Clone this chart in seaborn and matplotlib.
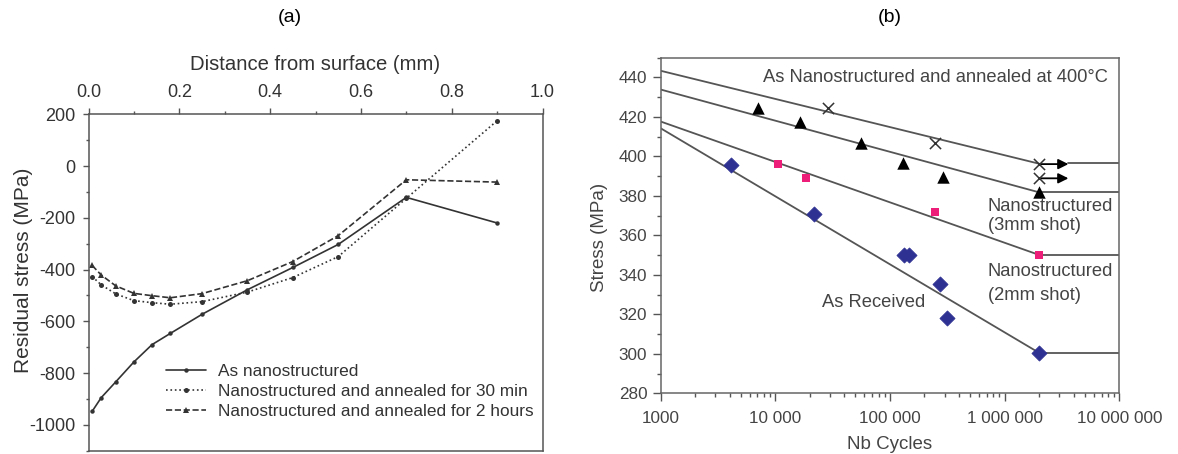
import numpy as np
import pandas as pd
import matplotlib
matplotlib.use("Agg")
import matplotlib.pyplot as plt
import seaborn as sns
from matplotlib.ticker import MultipleLocator, LogLocator, NullFormatter

# ---------------- data: panel (a) ----------------
depth_mm = [0.008, 0.028, 0.06, 0.1, 0.14, 0.18, 0.25, 0.35, 0.45, 0.55, 0.7, 0.9]
stress_as_nano = [-948, -895, -834, -757, -690, -647, -573, -478, -392, -303, -121, -220]
stress_30min = [-427, -459, -494, -520, -528, -534, -524, -487, -431, -350, -125, 175]
stress_2h = [-384, -421, -463, -492, -501, -509, -493, -443, -369, -269, -53, -62]
series_a_names = ["As nanostructured",
                  "Nanostructured and annealed for 30 min",
                  "Nanostructured and annealed for 2 hours"]

# ---------------- data: panel (b) ----------------
cycles_received = [4120, 22000, 132000, 148000, 272000, 314000, 2000000]
stress_received = [395.6, 371.0, 350.0, 350.0, 335.6, 318.0, 300.5]
cycles_2mm = [10500, 18700, 249000, 2000000]
stress_2mm = [396.0, 389.0, 371.8, 350.1]
cycles_3mm = [7100, 16600, 55700, 131000, 291000, 2000000]
stress_3mm = [424.5, 417.6, 407.0, 396.5, 389.5, 382.2]
cycles_annealed = [28600, 248000, 2000000, 2000000]
stress_annealed = [424.3, 406.6, 396.1, 388.9]

fit_names = ["annealed", "3mm", "2mm", "received"]
fit_start_stress = [443.4, 433.9, 417.7, 414.3]   # at 1000 cycles
fit_end_stress = [396.3, 381.8, 350.1, 300.5]      # at 2e6 cycles
runout_start = [3.6e6, 2e6, 2e6, 2e6]
runout_stress = [396.5, 381.8, 350.1, 300.5]
arrow_stress = [396.1, 388.9]

x_tick_b = [1e3, 1e4, 1e5, 1e6, 1e7]
x_tick_b_labels = ["1000", "10 000", "100 000", "1 000 000", "10 000 000"]

# ---------------- style ----------------
sns.set_theme(style="ticks")
plt.rcParams["font.family"] = ["Liberation Sans", "DejaVu Sans"]
plt.rcParams["axes.unicode_minus"] = False

TXT = "#333333"
SPINE = "#555555"

fig = plt.figure(figsize=(11.78, 4.54), dpi=100)
axa = fig.add_axes([88.5 / 1178, 3.3 / 454, 454 / 1178, 336.4 / 454])
axb = fig.add_axes([660.5 / 1178, 60.7 / 454, 458.8 / 1178, 335.6 / 454])

fig.text(290 / 1178, 1 - 18 / 454, "(a)", ha="center", va="center", fontsize=14, color="black")
fig.text(890 / 1178, 1 - 18 / 454, "(b)", ha="center", va="center", fontsize=14, color="black")

# ---------------- panel (a) ----------------
dfa = pd.DataFrame({
    "depth": depth_mm * 3,
    "stress": stress_as_nano + stress_30min + stress_2h,
    "series": sum([[n] * len(depth_mm) for n in series_a_names], []),
})
styles_a = [dict(ls="-", marker="o", ms=3.2),
            dict(ls=":", marker="o", ms=3.6),
            dict(ls="--", marker="^", ms=5.0)]
for name, st in zip(series_a_names, styles_a):
    sub = dfa[dfa["series"] == name]
    sns.lineplot(data=sub, x="depth", y="stress", ax=axa, color="#333333",
                 linestyle=st["ls"], marker=st["marker"], markersize=st["ms"],
                 markeredgewidth=0, lw=1.2, sort=False, estimator=None, label=name)

axa.set_xlim(0, 1.0)
axa.set_ylim(-1100, 200)
axa.xaxis.tick_top()
axa.xaxis.set_label_position("top")
axa.set_xticks([0, 0.2, 0.4, 0.6, 0.8, 1.0])
axa.set_xticklabels(["0.0", "0.2", "0.4", "0.6", "0.8", "1.0"])
axa.xaxis.set_minor_locator(MultipleLocator(0.1))
axa.set_yticks(list(range(-1000, 201, 200)))
axa.yaxis.set_minor_locator(MultipleLocator(100))
axa.tick_params(axis="both", which="major", direction="out", length=4.5, width=1,
                color=SPINE, labelsize=13, labelcolor=TXT, pad=5)
axa.tick_params(axis="both", which="minor", direction="out", length=2.5, width=1, color=SPINE)
axa.tick_params(axis="x", which="both", top=True, bottom=False)
for s in axa.spines.values():
    s.set_visible(True)
    s.set_color(SPINE)
    s.set_linewidth(1.1)
axa.set_xlabel("Distance from surface (mm)", fontsize=14.6, color=TXT)
axa.xaxis.set_label_coords(0.5, 1.1495)
axa.xaxis.label.set_va("center")
axa.set_ylabel("Residual stress (MPa)", fontsize=15, color=TXT)
axa.yaxis.set_label_coords(-0.144, 0.535)
axa.yaxis.label.set_va("center")

leg = axa.legend(loc="upper left", bbox_to_anchor=(0.171, 0.258), frameon=False,
                 fontsize=12.4, borderpad=0, borderaxespad=0, labelspacing=0.28,
                 handlelength=2.3, handletextpad=0.7)
for t in leg.get_texts():
    t.set_color(TXT)

# ---------------- panel (b) ----------------
LINE = "#555555"
for i in range(len(fit_names)):
    sns.lineplot(x=[1e3, 2e6], y=[fit_start_stress[i], fit_end_stress[i]], ax=axb,
                 color=LINE, lw=1.3, estimator=None, sort=False)
    sns.lineplot(x=[runout_start[i], 1e7], y=[runout_stress[i], runout_stress[i]], ax=axb,
                 color=LINE, lw=1.3, estimator=None, sort=False)

for ys in arrow_stress:
    axb.annotate("", xy=(3.6e6, ys), xytext=(2.0e6, ys),
                 arrowprops=dict(arrowstyle="-|>", color="black", lw=1.3,
                                 mutation_scale=15, shrinkA=0, shrinkB=0))

sns.scatterplot(x=cycles_received, y=stress_received, ax=axb, marker="D", s=60,
                color="#2e3192", edgecolor="#2e3192", linewidth=0.5, zorder=5)
sns.scatterplot(x=cycles_2mm, y=stress_2mm, ax=axb, marker="s", s=40,
                color="#ec1e79", edgecolor="#ec1e79", linewidth=0, zorder=5)
sns.scatterplot(x=cycles_3mm, y=stress_3mm, ax=axb, marker="^", s=80,
                color="black", edgecolor="black", linewidth=0, zorder=5)
sns.scatterplot(x=cycles_annealed, y=stress_annealed, ax=axb, marker="x", s=65,
                color="#333333", linewidth=1.1, zorder=5)

axb.set_xscale("log")
axb.set_xlim(1e3, 1e7)
axb.set_ylim(280, 450)
axb.set_xticks(x_tick_b)
axb.set_xticklabels(x_tick_b_labels)
axb.xaxis.set_minor_locator(LogLocator(base=10, subs=np.arange(2, 10), numticks=20))
axb.xaxis.set_minor_formatter(NullFormatter())
axb.set_yticks(list(range(280, 441, 20)))
axb.yaxis.set_minor_locator(MultipleLocator(10))
axb.tick_params(axis="both", which="major", direction="out", length=5.5, width=1,
                color=SPINE, labelsize=12.3, labelcolor="#444444", pad=4)
axb.tick_params(axis="x", which="major", pad=7)
axb.tick_params(axis="both", which="minor", direction="out", length=3, width=1, color=SPINE)
for s in axb.spines.values():
    s.set_visible(True)
    s.set_color("#666666")
    s.set_linewidth(1.1)
axb.set_xlabel("Nb Cycles", fontsize=13.5, color="#444444")
axb.xaxis.set_label_coords(0.5, -0.154)
axb.xaxis.label.set_va("center")
axb.set_ylabel("Stress (MPa)", fontsize=13.5, color="#444444")
axb.yaxis.set_label_coords(-0.133, 0.464)
axb.yaxis.label.set_va("center")

TB = "#444444"
FS = 13.2
axb.text(7785, 440, "As Nanostructured and annealed at 400°C", fontsize=FS,
         color=TB, ha="left", va="center")
axb.text(7.13e5, 374.7, "Nanostructured", fontsize=FS, color=TB, ha="left", va="center")
axb.text(7.13e5, 365.2, "(3mm shot)", fontsize=FS, color=TB, ha="left", va="center")
axb.text(7.13e5, 341.6, "Nanostructured", fontsize=FS, color=TB, ha="left", va="center")
axb.text(7.13e5, 329.5, "(2mm shot)", fontsize=FS, color=TB, ha="left", va="center")
axb.text(2.55e4, 326, "As Received", fontsize=FS, color=TB, ha="left", va="center")

fig.savefig("out.png", dpi=100, facecolor="white")
